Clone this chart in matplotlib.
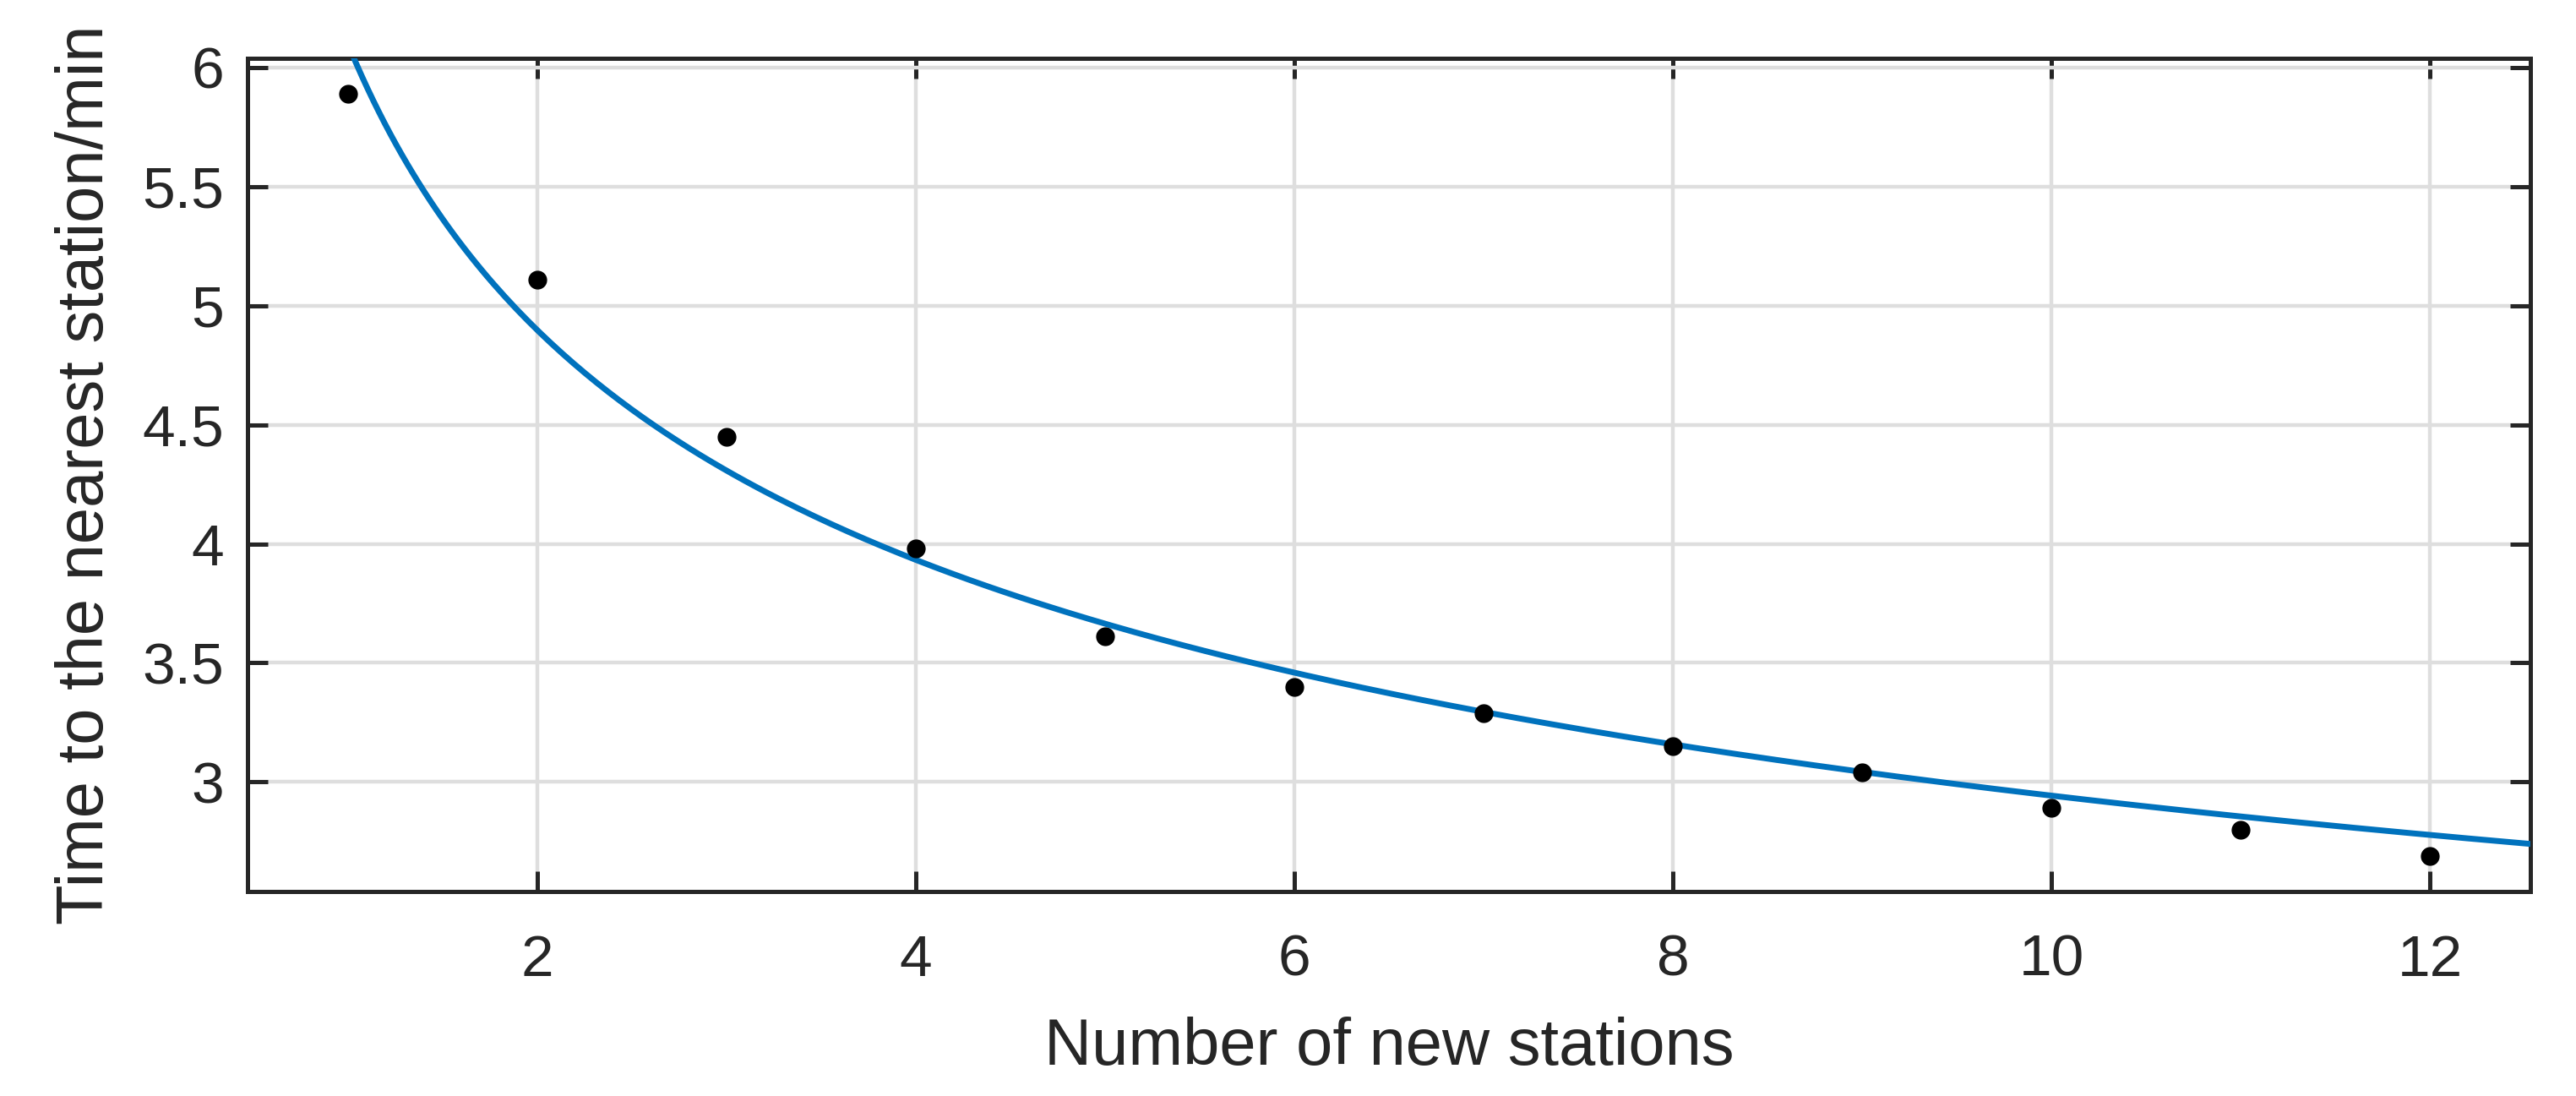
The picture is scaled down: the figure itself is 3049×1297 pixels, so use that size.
import numpy as np
import matplotlib
matplotlib.use("Agg")
import matplotlib.pyplot as plt

# number of new stations and measured time (min)
stations = [1, 2, 3, 4, 5, 6, 7, 8, 9, 10, 11, 12]
time_min = [5.89, 5.11, 4.45, 3.98, 3.61, 3.40, 3.29, 3.15, 3.04, 2.89, 2.80, 2.69]

# power fit t = a * n^b
fit_a = 6.10
fit_b = -0.3166

xticks = [2, 4, 6, 8, 10, 12]
yticks = [3, 3.5, 4, 4.5, 5, 5.5, 6]

plt.rcParams['font.family'] = ['Liberation Sans', 'DejaVu Sans']
dark = '#262626'

fig = plt.figure(figsize=(30.49, 12.97), dpi=100)
ax = fig.add_axes([0.0961, 0.1866, 0.8861, 0.76])

n = np.linspace(0.47, 12.53, 400)
ax.plot(n, fit_a * n ** fit_b, color='#0072BD', lw=5, zorder=3)
ax.plot(stations, time_min, 'o', color='black', ms=15, mec='black', zorder=4)

ax.set_xlim(0.47, 12.53)
ax.set_ylim(2.54, 6.038)
ax.set_xticks(xticks)
ax.set_yticks(yticks)
ax.set_yticklabels(['3', '3.5', '4', '4.5', '5', '5.5', '6'])

ax.grid(True, color='#dedede', lw=3.2)
ax.set_axisbelow(True)
for s in ax.spines.values():
    s.set_color(dark)
    s.set_linewidth(3.6)
ax.tick_params(direction='in', length=17, width=3.6, colors=dark,
               top=True, right=True, labelsize=50)
ax.tick_params(axis='x', pad=36)
ax.tick_params(axis='y', pad=20)

ax.set_xlabel('Number of new stations', fontsize=56, color=dark)
ax.set_ylabel('Time to the nearest station/min', fontsize=56, color=dark)
ax.xaxis.set_label_coords(0.5, -0.187)
ax.xaxis.label.set_va('center')
ax.yaxis.set_label_coords(-0.071, 0.5)
ax.yaxis.label.set_va('center')

fig.savefig('out.png', dpi=100)
